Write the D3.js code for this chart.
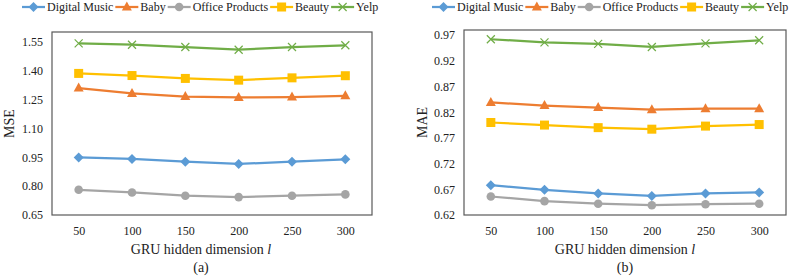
<!DOCTYPE html>
<html>
<head>
<meta charset="utf-8">
<script src="https://cdn.jsdelivr.net/npm/d3@7"></script>
<style>
    body { margin: 0; background: #fff; }
</style>
</head>
<body>
<div id="chart"></div>
<script>
// x categories (GRU hidden dimension)
const dims = [50, 100, 150, 200, 250, 300];

const seriesNames = ["Digital Music", "Baby", "Office Products", "Beauty", "Yelp"];
const colors = ["#5B9BD5", "#ED7D31", "#A5A5A5", "#FFC000", "#70AD47"];
const markers = ["diamond", "triangle", "circle", "square", "x"];

// (a) MSE
const mseDigitalMusic = [0.949, 0.941, 0.927, 0.915, 0.927, 0.939];
const mseBaby = [1.309, 1.281, 1.265, 1.260, 1.262, 1.269];
const mseOffice = [0.781, 0.767, 0.750, 0.743, 0.750, 0.757];
const mseBeauty = [1.385, 1.374, 1.359, 1.350, 1.362, 1.373];
const mseYelp = [1.541, 1.534, 1.522, 1.508, 1.522, 1.531];
const mseTicks = [0.65, 0.80, 0.95, 1.10, 1.25, 1.40, 1.55];

// (b) MAE
const maeDigitalMusic = [0.678, 0.669, 0.662, 0.657, 0.662, 0.664];
const maeBaby = [0.839, 0.833, 0.829, 0.825, 0.827, 0.827];
const maeOffice = [0.656, 0.647, 0.642, 0.639, 0.641, 0.642];
const maeBeauty = [0.800, 0.795, 0.790, 0.787, 0.793, 0.796];
const maeYelp = [0.962, 0.956, 0.953, 0.947, 0.954, 0.960];
const maeTicks = [0.62, 0.67, 0.72, 0.77, 0.82, 0.87, 0.92, 0.97];

const FONT = "Liberation Serif";

const svg = d3.select("#chart")
    .append("svg")
    .attr("width", 798)
    .attr("height", 278)
    .style("font-family", FONT);

svg.append("rect").attr("width", 798).attr("height", 278).attr("fill", "#fff");

function drawMarker(g, type, x, y, color) {
    if (type === "diamond") {
        g.append("path").attr("d", `M${x},${y - 5}L${x + 5},${y}L${x},${y + 5}L${x - 5},${y}Z`).attr("fill", color);
    } else if (type === "triangle") {
        g.append("path").attr("d", `M${x},${y - 5.5}L${x + 5},${y + 3.5}L${x - 5},${y + 3.5}Z`).attr("fill", color);
    } else if (type === "circle") {
        g.append("circle").attr("cx", x).attr("cy", y).attr("r", 4.3).attr("fill", color);
    } else if (type === "square") {
        g.append("rect").attr("x", x - 4.5).attr("y", y - 4.5).attr("width", 9).attr("height", 9).attr("fill", color);
    } else {
        g.append("path").attr("d", `M${x - 4},${y - 4}L${x + 4},${y + 4}M${x - 4},${y + 4}L${x + 4},${y - 4}`)
            .attr("stroke", color).attr("stroke-width", 1.2).attr("fill", "none");
    }
}

function drawPanel(cfg) {
    const g = svg.append("g");

    const x = d3.scalePoint()
        .domain(dims)
        .range([cfg.left, cfg.right])
        .padding(0.5);

    const y = d3.scaleLinear()
        .domain(cfg.domain)
        .range([cfg.bottom, cfg.top]);

    // Y axis labels
    g.append("g")
        .attr("transform", `translate(${cfg.left},0)`)
        .call(d3.axisLeft(y).tickValues(cfg.ticks).tickFormat(d3.format(".2f")).tickSize(0).tickPadding(9))
        .call(a => a.select(".domain").remove())
        .style("font-family", FONT)
        .selectAll("text")
        .style("font-family", FONT)
        .style("font-size", "12px")
        .attr("fill", "#222");

    // X axis labels
    g.append("g")
        .attr("transform", `translate(0,${cfg.bottom})`)
        .call(d3.axisBottom(x).tickSize(0).tickPadding(11))
        .call(a => a.select(".domain").remove())
        .style("font-family", FONT)
        .selectAll("text")
        .style("font-family", FONT)
        .style("font-size", "12px")
        .attr("fill", "#222");

    // Lines and markers
    cfg.series.forEach((vals, i) => {
        const pts = dims.map((d, j) => ({ d: d, v: vals[j] }));
        g.append("path")
            .datum(pts)
            .attr("fill", "none")
            .attr("stroke", colors[i])
            .attr("stroke-width", 2.25)
            .attr("d", d3.line().x(p => x(p.d)).y(p => y(p.v)));
        pts.forEach(p => drawMarker(g, markers[i], x(p.d), y(p.v), colors[i]));
    });

    // Plot area border
    g.append("rect")
        .attr("x", cfg.left)
        .attr("y", cfg.top)
        .attr("width", cfg.right - cfg.left)
        .attr("height", cfg.bottom - cfg.top)
        .attr("fill", "none")
        .attr("stroke", "#595959")
        .attr("stroke-width", 1.2);

    // Y title
    g.append("text")
        .attr("transform", `translate(${cfg.yTitleX},${(cfg.top + cfg.bottom) / 2}) rotate(-90)`)
        .attr("text-anchor", "middle")
        .attr("dominant-baseline", "central")
        .style("font-family", FONT)
        .style("font-size", "14px")
        .attr("fill", "#222")
        .text(cfg.yTitle);

    // X title
    const xt = g.append("text")
        .attr("x", cfg.xTitleX)
        .attr("y", 254)
        .attr("text-anchor", "middle")
        .style("font-family", FONT)
        .style("font-size", "14px")
        .attr("fill", "#222");
    xt.append("tspan").text("GRU hidden dimension ");
    xt.append("tspan").attr("font-style", "italic").text("l");

    g.append("text")
        .attr("x", cfg.xTitleX)
        .attr("y", 272)
        .attr("text-anchor", "middle")
        .style("font-family", FONT)
        .style("font-size", "14px")
        .attr("fill", "#222")
        .text(cfg.caption);

    // Legend
    let lx = cfg.legendX;
    const ly = 7;
    seriesNames.forEach((name, i) => {
        g.append("line")
            .attr("x1", lx).attr("x2", lx + 23)
            .attr("y1", ly).attr("y2", ly)
            .attr("stroke", colors[i]).attr("stroke-width", 2.25);
        drawMarker(g, markers[i], lx + 11.5, ly, colors[i]);
        const t = g.append("text")
            .attr("x", lx + 25)
            .attr("y", ly)
            .attr("dominant-baseline", "central")
            .style("font-family", FONT)
            .style("font-size", "12px")
            .attr("fill", "#222")
            .text(name);
        lx += 25 + t.node().getComputedTextLength() + 2;
    });
}

drawPanel({
    left: 52, right: 372, top: 32, bottom: 215,
    domain: [0.65, 1.60], ticks: mseTicks,
    series: [mseDigitalMusic, mseBaby, mseOffice, mseBeauty, mseYelp],
    yTitle: "MSE", yTitleX: 9, xTitleX: 201, caption: "(a)", legendX: 22
});

drawPanel({
    left: 464, right: 786, top: 30, bottom: 215,
    domain: [0.62, 0.98], ticks: maeTicks,
    series: [maeDigitalMusic, maeBaby, maeOffice, maeBeauty, maeYelp],
    yTitle: "MAE", yTitleX: 422, xTitleX: 625, caption: "(b)", legendX: 432
});
</script>
</body>
</html>
